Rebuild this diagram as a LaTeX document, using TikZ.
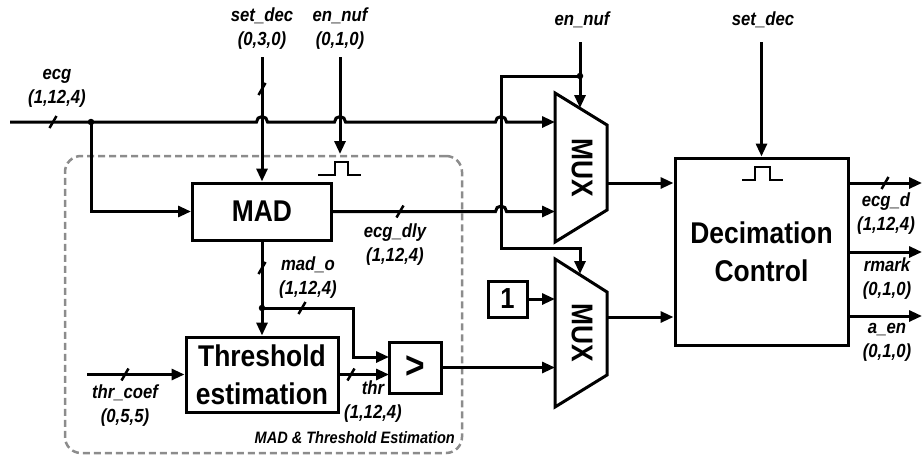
\documentclass[tikz,border=0pt]{standalone}
\usepackage{fontspec}
\setmainfont{Liberation Sans}[FakeStretch=0.88]
\usetikzlibrary{arrows.meta}
\definecolor{dgray}{RGB}{140,140,140}
\begin{document}
\begin{tikzpicture}[x=1pt,y=-1pt,
  wire/.style={line width=3pt},
  arr/.style={-{Triangle[length=13pt,width=11pt]}},
  blk/.style={draw,line width=3pt,inner sep=0pt,align=center,
    font=\fontsize{30}{38}\selectfont\bfseries},
  bigt/.style={inner sep=0pt,font=\fontsize{30}{34}\selectfont\bfseries},
  lbl/.style={inner sep=0pt,align=center,
    font=\fontsize{19}{24}\selectfont\bfseries\itshape},
  bus/.style={line width=2.5pt},
  pulse/.style={line width=1.3pt},
  dot/.style={circle,fill=black,inner sep=0pt,minimum size=6.5pt},
  dashbox/.style={draw=dgray,line width=2.5pt,dash pattern=on 7pt off 4pt,
    rounded corners=16pt,inner sep=0pt}]
\useasboundingbox (0,0) rectangle (923,458);

% group box
\node[dashbox,minimum width=397pt,minimum height=297pt] (grp) at (263.5,304.5) {};
\node[inner sep=0pt,anchor=east,font=\fontsize{16.5}{20}\selectfont\bfseries\itshape]
  (grplbl) at (455,438) {MAD \& Threshold Estimation};

% blocks
\node[blk,minimum width=139pt,minimum height=57pt] (mad) at (262,211.5) {MAD};
\node[blk,minimum width=152pt,minimum height=75pt] (thrb) at (262,374.5) {Threshold\\estimation};
\node[blk,minimum width=52pt,minimum height=51pt] (cmp) at (415,367.5) {};
\node[inner sep=0pt,font=\fontsize{38}{40}\selectfont\bfseries] (cmpt) at (cmp.center) {>};
\node[blk,minimum width=39pt,minimum height=36pt,font=\fontsize{29}{34}\selectfont\bfseries] (one) at (507.5,299) {1};
\node[blk,minimum width=173pt,minimum height=187pt] (dec) at (761.5,251.5) {Decimation\\Control};

% muxes
\coordinate (m1tl) at (555,93);  \coordinate (m1tr) at (607,125);
\coordinate (m1br) at (607,210); \coordinate (m1bl) at (555,242);
\coordinate (m2tl) at (555,259); \coordinate (m2tr) at (607,292);
\coordinate (m2br) at (607,375); \coordinate (m2bl) at (555,407);
\draw[wire,line join=miter] (m1tl) -- (m1tr) -- (m1br) -- (m1bl) -- cycle;
\draw[wire,line join=miter] (m2tl) -- (m2tr) -- (m2br) -- (m2bl) -- cycle;
\node[bigt,rotate=-90] (mux1t) at (582,168) {MUX};
\node[bigt,rotate=-90] (mux2t) at (582,333) {MUX};

% coordinates
\coordinate (ecgin) at (10,122);
\coordinate (j1) at (91,122);
\coordinate (h1) at (262,122);
\coordinate (h2) at (340,122);
\coordinate (h3) at (501,122);
\coordinate (m1in1) at (555,122);
\coordinate (h4) at (501,211.5);
\coordinate (m1in2) at (555,211.5);
\coordinate (sdtop) at (262,57);
\coordinate (entop) at (340,57);
\coordinate (enend) at (340,154);
\coordinate (j2) at (262,308);
\coordinate (c1) at (353,357);
\coordinate (cmpin1) at (389,357);
\coordinate (cmpin2) at (389,374.5);
\coordinate (tcin) at (87,374.5);
\coordinate (m2in2) at (555,367.5);
\coordinate (en2top) at (580,42);
\coordinate (j3) at (580,76);
\coordinate (m1sel) at (580,108);
\coordinate (c3) at (501,248);
\coordinate (m2sel) at (580,274);
\coordinate (m2in1) at (555,299);
\coordinate (m1out) at (607,183);
\coordinate (m2out) at (607,317);
\coordinate (sd2top) at (761.5,42);
\coordinate (o1) at (922,183);
\coordinate (o2) at (922,252);
\coordinate (o3) at (922,316);

% connectors
\draw[wire,arr] (ecgin)
  -- ([xshift=-5.5pt]h1) arc[start angle=180,end angle=0,radius=5.5pt]
  -- ([xshift=-5.5pt]h2) arc[start angle=180,end angle=0,radius=5.5pt]
  -- ([xshift=-5.5pt]h3) arc[start angle=180,end angle=0,radius=5.5pt]
  -- (m1in1);
\draw[wire,arr] (j1) |- (mad.west);
\draw[wire,arr] (sdtop) -- (mad.north);
\draw[wire,arr] (entop) -- (enend);
\draw[wire,arr] (mad.east)
  -- ([xshift=-5.5pt]h4) arc[start angle=180,end angle=0,radius=5.5pt]
  -- (m1in2);
\draw[wire,arr] (mad.south) -- (thrb.north);
\draw[wire,arr] (j2) -| (c1) -- (cmpin1);
\draw[wire,arr] (tcin) -- (thrb.west);
\draw[wire,arr] (thrb.east) -- (cmpin2);
\draw[wire,arr] (cmp.east) -- (m2in2);
\draw[wire,arr] (en2top) -- (m1sel);
\draw[wire,arr] (j3) -| (c3) -| (m2sel);
\draw[wire,arr] (one.east) -- (m2in1);
\draw[wire,arr] (m1out) -- (m1out -| dec.west);
\draw[wire,arr] (m2out) -- (m2out -| dec.west);
\draw[wire,arr] (sd2top) -- (dec.north);
\draw[wire,arr] (o1 -| dec.east) -- (o1);
\draw[wire,arr] (o2 -| dec.east) -- (o2);
\draw[wire,arr] (o3 -| dec.east) -- (o3);

% junction dots
\node[dot] (d1) at (j1) {};
\node[dot] (d2) at (j2) {};
\node[dot] (d3) at (j3) {};

% bus slashes
\coordinate (s1) at (53,122);
\coordinate (s2) at (262,89);
\coordinate (s3) at (400,211.5);
\coordinate (s4) at (262,268);
\coordinate (s5) at (302,308);
\coordinate (s6) at (125,374.5);
\coordinate (s7) at (351,374.5);
\coordinate (s8) at (885,183);
\foreach \s in {s1,s2,s3,s4,s5,s6,s7,s8}
  \draw[bus] (\s) +(-3.5,6) -- +(3.5,-6);

% pulses
\coordinate (p1) at (318,175);
\coordinate (p2) at (742,180);
\draw[pulse] (p1) -- +(17,0) -- +(17,-13) -- +(30,-13) -- +(30,0) -- +(43,0);
\draw[pulse] (p2) -- +(13,0) -- +(13,-13) -- +(28,-13) -- +(28,0) -- +(41,0);

% labels
\node[lbl] (lecg) at (57,88) {ecg\\(1,12,4)};
\node[lbl] (lsd) at (262,28.5) {set\_dec\\(0,3,0)};
\node[lbl] (len) at (340,28.5) {en\_nuf\\(0,1,0)};
\node[lbl] (ldly) at (395,244.5) {ecg\_dly\\(1,12,4)};
\node[lbl] (lmado) at (308,278) {mad\_o\\(1,12,4)};
\node[lbl] (ltc) at (125,406) {thr\_coef\\(0,5,5)};
\node[lbl] (lthr) at (373,401.5) {thr\\(1,12,4)};
\node[lbl] (len2) at (582,20) {en\_nuf};
\node[lbl] (lsd2) at (763,20) {set\_dec};
\node[lbl] (lecgd) at (886,213.5) {ecg\_d\\(1,12,4)};
\node[lbl] (lrm) at (887,279) {rmark\\(0,1,0)};
\node[lbl] (laen) at (887,342) {a\_en\\(0,1,0)};
\end{tikzpicture}
\end{document}
